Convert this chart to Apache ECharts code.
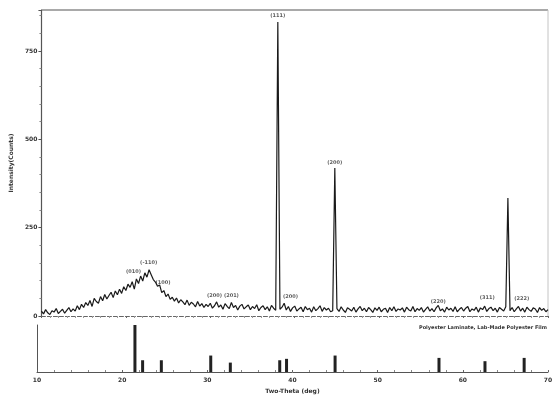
<!DOCTYPE html>
<html>
<head>
<meta charset="utf-8">
<script src="https://cdn.jsdelivr.net/npm/echarts@6/dist/echarts.min.js"></script>
<style>
  html, body { margin: 0; padding: 0; background: #fff; }
  #chart { width: 559px; height: 402px; }
</style>
</head>
<body>
<div id="chart"></div>
<script>
// measured scan: 2-theta from 10 to 70 deg, step 0.25
const thetaStart = 10;
const thetaStep = 0.25;
const counts = [
  14, 6, 18, 9, 4, 15, 11, 21, 7, 13, 19, 8, 16, 24, 12, 20, 14, 29, 18, 33,
  24, 38, 30, 44, 27, 50, 41, 36, 55, 43, 61, 48, 58, 67, 52, 71, 60, 76, 64, 83,
  72, 90, 81, 97, 76, 105, 92, 113, 99, 122, 110, 131, 117, 103, 96, 84, 88, 66, 72, 55,
  62, 47, 53, 42, 51, 37, 46, 40, 32, 45, 30, 39, 34, 26, 41, 28, 35, 24, 33, 27,
  36, 22, 29, 40, 25, 31, 19, 35, 27, 21, 38, 24, 30, 17, 28, 33, 20, 26, 31, 18,
  27, 21, 32, 15, 24, 29, 18, 26, 14, 30, 22, 16, 832, 19, 25, 36, 17, 27, 13, 23,
  28, 14, 20, 25, 12, 27, 18, 22, 11, 26, 15, 21, 29, 13, 24, 17, 22, 12, 15, 419,
  21, 13, 26, 17, 10, 23, 19, 14, 25, 11, 20, 27, 15, 22, 12, 24, 18, 10, 23, 16,
  25, 12, 19, 22, 10, 24, 15, 26, 13, 20, 17, 23, 11, 25, 18, 14, 27, 12, 21, 16,
  24, 11, 19, 26, 14, 21, 12, 23, 30, 15, 20, 11, 25, 17, 22, 13, 26, 12, 19, 24,
  14, 22, 27, 12, 20, 16, 25, 11, 23, 18, 28, 13, 21, 25, 15, 22, 11, 24, 19, 14,
  26, 334, 15, 24, 12, 20, 27, 14, 22, 11, 25, 18, 13, 23, 20, 10, 24, 16, 21, 12,
  18
];

// peak labels (hkl) placed above peaks
const peakTheta = [20.9, 22.7, 24.4, 30.5, 32.5, 38.0, 39.5, 44.75, 57.0, 62.8, 66.9];
const peakLabelY = [125, 150, 93, 57, 57, 850, 54, 433, 40, 51, 48];
const peakHkl = ['(010)', '(-110)', '(100)', '(200)', '(201)', '(111)', '(200)', '(200)', '(220)', '(311)', '(222)'];

// reference pattern sticks (relative intensity)
const refTheta = [21.5, 22.4, 24.6, 30.4, 32.7, 38.5, 39.3, 45.0, 57.2, 62.6, 67.2];
const refInt = [100, 25, 25, 35, 20, 25, 28, 35, 30, 23, 30];

const xTicks = [10, 20, 30, 40, 50, 60, 70];
const yTicks = [0, 250, 500, 750];
const yMax = 866;

const scanData = counts.map((c, i) => [thetaStart + i * thetaStep, c]);
const labelData = peakTheta.map((t, i) => ({ value: [t, peakLabelY[i]], name: peakHkl[i] }));
const refData = refTheta.map((t, i) => [t, refInt[i]]);

const chart = echarts.init(document.getElementById('chart'), null, { renderer: 'canvas' });

const tinyLabel = { fontSize: 6, fontWeight: 'bold', color: '#333', fontFamily: 'DejaVu Sans' };
const xMin = xTicks[0];
const xMax = xTicks[xTicks.length - 1];

chart.setOption({
  backgroundColor: '#fff',
  animation: false,
  grid: [
    { left: 37, right: 11, top: 10, bottom: 86 },
    { left: 37, right: 11, top: 325, bottom: 30 }
  ],
  xAxis: [
    {
      type: 'value', gridIndex: 0, min: xMin, max: xMax, interval: 10,
      axisLine: { show: true, onZero: false, lineStyle: { color: '#666', width: 1, type: 'dashed' } },
      axisTick: { show: true, length: 2, lineStyle: { color: '#666' } },
      minorTick: { show: true, splitNumber: 10, length: 2, lineStyle: { color: '#999' } },
      axisLabel: { show: false },
      splitLine: { show: false }
    },
    {
      type: 'value', gridIndex: 1, min: xMin, max: xMax, interval: 10,
      name: 'Two-Theta (deg)', nameLocation: 'middle', nameGap: 16,
      nameTextStyle: { fontSize: 6, fontWeight: 'bold', color: '#333', fontFamily: 'DejaVu Sans' },
      axisLine: { show: true, onZero: false, lineStyle: { color: '#555', width: 1 } },
      axisTick: { show: true, length: 2, inside: true, lineStyle: { color: '#666' } },
      minorTick: { show: true, splitNumber: 5, length: 2, lineStyle: { color: '#888' } },
      axisLabel: Object.assign({ margin: 5 }, tinyLabel),
      splitLine: { show: false }
    }
  ],
  yAxis: [
    {
      type: 'value', gridIndex: 0, min: 0, max: yMax, interval: 250,
      name: 'Intensity(Counts)', nameLocation: 'middle', nameGap: 18,
      nameTextStyle: { fontSize: 6, fontWeight: 'bold', color: '#333', fontFamily: 'DejaVu Sans' },
      axisLine: { show: true, onZero: false, lineStyle: { color: '#555', width: 1.2 } },
      axisTick: { show: true, length: 3, lineStyle: { color: '#555' } },
      minorTick: { show: true, splitNumber: 5, length: 2, lineStyle: { color: '#888' } },
      axisLabel: Object.assign({
        margin: 4,
        formatter: v => (yTicks.indexOf(v) >= 0 ? String(v) : '')
      }, tinyLabel),
      splitLine: { show: false }
    },
    {
      type: 'value', gridIndex: 1, min: 0, max: 100,
      axisLine: { show: true, onZero: false, lineStyle: { color: '#555', width: 1 } },
      axisTick: { show: false }, axisLabel: { show: false }, splitLine: { show: false }
    }
  ],
  series: [
    {
      type: 'line', xAxisIndex: 0, yAxisIndex: 0, data: scanData,
      symbol: 'none', silent: true,
      lineStyle: { color: '#1a1a1a', width: 1.2 }
    },
    {
      type: 'scatter', xAxisIndex: 0, yAxisIndex: 0, data: labelData,
      symbolSize: 0, silent: true,
      label: Object.assign({ show: true, position: 'inside', formatter: p => p.name }, tinyLabel, { fontSize: 5 })
    },
    {
      type: 'bar', xAxisIndex: 1, yAxisIndex: 1, data: refData,
      barWidth: 3, silent: true,
      itemStyle: { color: '#222' }
    }
  ]
});

// frame of the scan panel: top and right edges, placed through the axes
const tl = chart.convertToPixel({ gridIndex: 0 }, [xMin, yMax]);
const tr = chart.convertToPixel({ gridIndex: 0 }, [xMax, yMax]);
const br = chart.convertToPixel({ gridIndex: 0 }, [xMax, 0]);
const legendAt = chart.convertToPixel({ gridIndex: 1 }, [xMax, 100]);

chart.setOption({
  graphic: [
    {
      type: 'line', silent: true,
      shape: { x1: tl[0], y1: tl[1], x2: tr[0], y2: tr[1] },
      style: { stroke: '#555', lineWidth: 1.2 }
    },
    {
      type: 'line', silent: true,
      shape: { x1: tr[0], y1: tr[1], x2: br[0], y2: br[1] },
      style: { stroke: '#c4c4c4', lineWidth: 1 }
    },
    {
      type: 'text', silent: true,
      x: legendAt[0] - 1, y: legendAt[1],
      style: {
        text: 'Polyester Laminate, Lab-Made Polyester Film', align: 'right', verticalAlign: 'top',
        fontSize: 5, fontWeight: 'bold', fill: '#333', fontFamily: 'DejaVu Sans'
      }
    }
  ]
});
</script>
</body>
</html>
